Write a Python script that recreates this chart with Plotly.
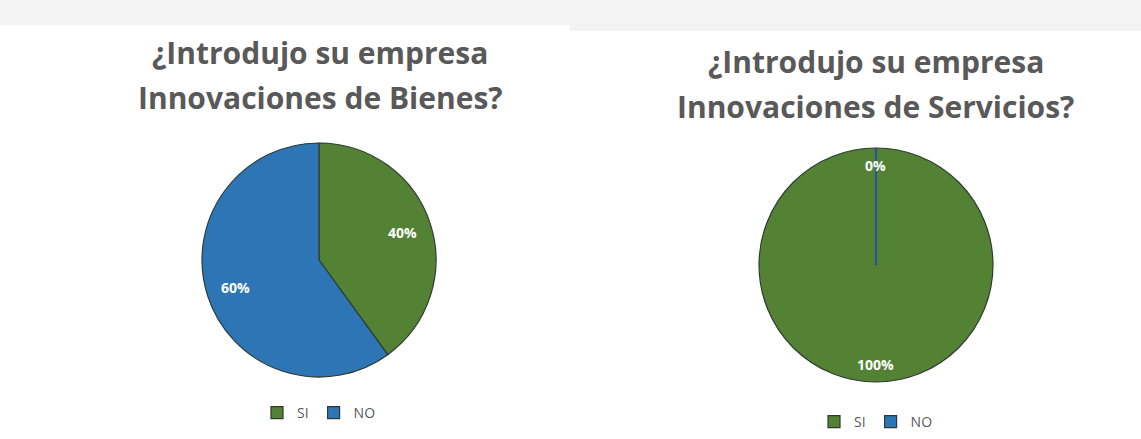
import math
import plotly.graph_objects as go

labels = ["SI", "NO"]
bienes_values = [40, 60]
servicios_values = [100, 0]
title_bienes = ["¿Introdujo su empresa", "Innovaciones de Bienes?"]
title_servicios = ["¿Introdujo su empresa", "Innovaciones de Servicios?"]

colors = ["#548235", "#2E75B6"]
W, H = 1141, 439
FONT = "Open Sans"

# pie geometry in pixels (center x, center y, radius)
pies = [
    dict(values=bienes_values, cx=319, cy=260, r=117, frac=0.75, legend="legend", group="g1",
         title=title_bienes, tx=320, ty=[52, 97], ly=413),
    dict(values=servicios_values, cx=876, cy=265, r=117, frac=0.85, legend="legend2", group="g2",
         title=title_servicios, tx=876, ty=[62, 107], ly=422),
]

fig = go.Figure()
shapes = [
    dict(type="rect", xref="paper", yref="paper", x0=0, x1=570 / W, y0=1 - 25 / H, y1=1,
         fillcolor="#f3f3f3", line=dict(width=0), layer="below"),
    dict(type="rect", xref="paper", yref="paper", x0=570 / W, x1=1, y0=1 - 31 / H, y1=1,
         fillcolor="#f3f3f3", line=dict(width=0), layer="below"),
]
for p in pies:
    fig.add_trace(go.Pie(
        labels=labels, values=p["values"], sort=False, direction="clockwise", rotation=0,
        marker=dict(colors=colors, line=dict(color="#2d3b33", width=1.2)),
        textinfo="none", textposition="none",
        domain=dict(x=[(p["cx"] - p["r"]) / W, (p["cx"] + p["r"]) / W],
                    y=[1 - (p["cy"] + p["r"]) / H, 1 - (p["cy"] - p["r"]) / H]),
        legend=p["legend"], legendgroup=p["group"], hoverinfo="label+percent",
    ))
    total = sum(p["values"])
    cum = 0
    for lab, v, col in zip(labels, p["values"], colors):
        start = cum / total * 2 * math.pi
        mid = (cum + v / 2) / total * 2 * math.pi
        cum += v
        px = p["cx"] + p["frac"] * p["r"] * math.sin(mid)
        py = p["cy"] - p["frac"] * p["r"] * math.cos(mid)
        fig.add_annotation(text=f"{round(v / total * 100)}%", x=px / W, y=1 - py / H,
                           xref="paper", yref="paper", showarrow=False,
                           xanchor="center", yanchor="middle",
                           font=dict(family=FONT, size=14, color="white", weight="bold"))
        if v == 0:
            ex = p["cx"] + p["r"] * math.sin(start)
            ey = p["cy"] - p["r"] * math.cos(start)
            shapes.append(dict(type="line", xref="paper", yref="paper",
                               x0=p["cx"] / W, y0=1 - p["cy"] / H, x1=ex / W, y1=1 - ey / H,
                               line=dict(color="#2a4fa8", width=2)))
    for line_text, y in zip(p["title"], p["ty"]):
        fig.add_annotation(text=line_text, x=p["tx"] / W, y=1 - y / H, xref="paper", yref="paper",
                           xanchor="center", yanchor="middle", showarrow=False,
                           font=dict(family=FONT, size=30, color="#595959", weight="bold"))

legend_common = dict(orientation="h", xanchor="center", yanchor="middle",
                     font=dict(family=FONT, size=14, color="#595959"),
                     bgcolor="rgba(0,0,0,0)", itemwidth=30, traceorder="normal")
fig.update_layout(
    width=W, height=H, margin=dict(l=0, r=0, t=0, b=0),
    paper_bgcolor="white", plot_bgcolor="white",
    legend=dict(x=pies[0]["cx"] / W, y=1 - pies[0]["ly"] / H, **legend_common),
    legend2=dict(x=pies[1]["cx"] / W, y=1 - pies[1]["ly"] / H, **legend_common),
    shapes=shapes,
)
fig.write_html("out.html")
